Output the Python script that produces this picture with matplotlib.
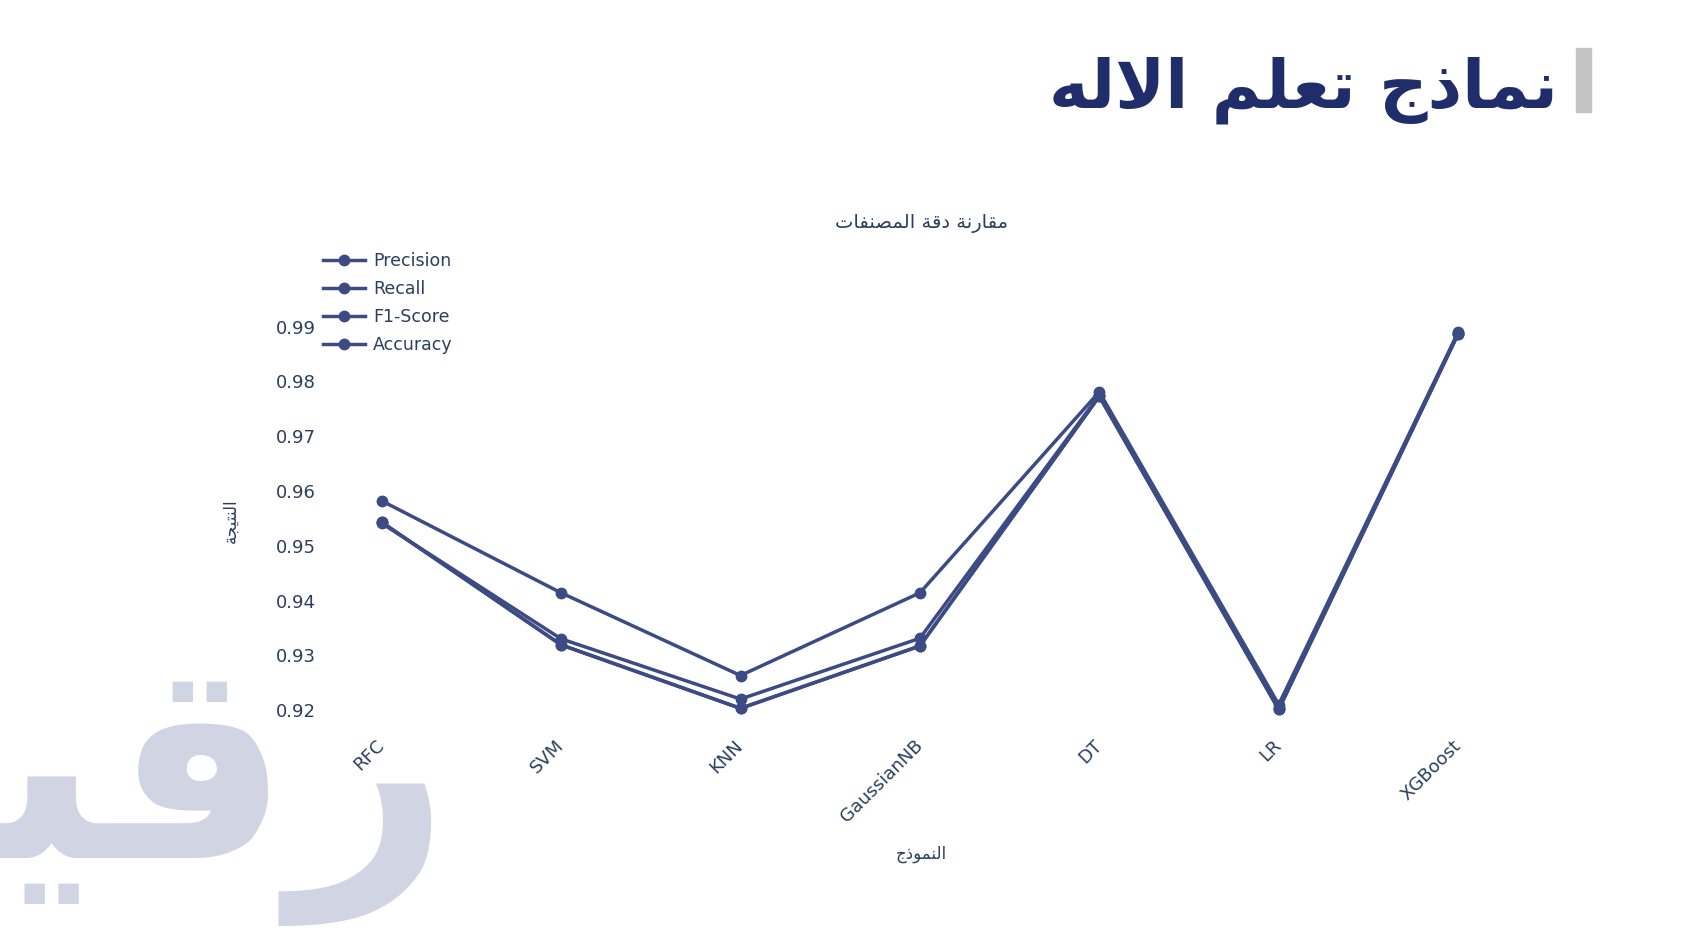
import matplotlib
matplotlib.use("Agg")
import matplotlib.pyplot as plt

# ---------------- data ----------------
models = ["RFC", "SVM", "KNN", "GaussianNB", "DT", "LR", "XGBoost"]
precision = [0.9582, 0.9414, 0.9263, 0.9414, 0.9781, 0.9210, 0.9890]
recall    = [0.9543, 0.9319, 0.9203, 0.9317, 0.9773, 0.9201, 0.9887]
f1_score  = [0.9541, 0.9330, 0.9220, 0.9331, 0.9775, 0.9204, 0.9888]
accuracy  = [0.9543, 0.9319, 0.9203, 0.9317, 0.9773, 0.9201, 0.9887]
series_names = ["Precision", "Recall", "F1-Score", "Accuracy"]
y_ticks = [0.92, 0.93, 0.94, 0.95, 0.96, 0.97, 0.98, 0.99]

title_txt = "نماذج تعلم الاله"
subtitle_txt = "مقارنة دقة المصنفات"
ylabel_txt = "النتيجة"
xlabel_txt = "النموذج"
logo_txt = "رقيب"

# ------------- simple Arabic shaping (matplotlib has no shaper) -------------
_FORMS = {
    'ا': ('\uFE8D', '\uFE8E', None, None),
    'ب': ('\uFE8F', '\uFE90', '\uFE91', '\uFE92'),
    'ة': ('\uFE93', '\uFE94', None, None),
    'ت': ('\uFE95', '\uFE96', '\uFE97', '\uFE98'),
    'ج': ('\uFE9D', '\uFE9E', '\uFE9F', '\uFEA0'),
    'د': ('\uFEA9', '\uFEAA', None, None),
    'ذ': ('\uFEAB', '\uFEAC', None, None),
    'ر': ('\uFEAD', '\uFEAE', None, None),
    'و': ('\uFEED', '\uFEEE', None, None),
    'ص': ('\uFEB9', '\uFEBA', '\uFEBB', '\uFEBC'),
    'ع': ('\uFEC9', '\uFECA', '\uFECB', '\uFECC'),
    'ف': ('\uFED1', '\uFED2', '\uFED3', '\uFED4'),
    'ق': ('\uFED5', '\uFED6', '\uFED7', '\uFED8'),
    'ل': ('\uFEDD', '\uFEDE', '\uFEDF', '\uFEE0'),
    'م': ('\uFEE1', '\uFEE2', '\uFEE3', '\uFEE4'),
    'ن': ('\uFEE5', '\uFEE6', '\uFEE7', '\uFEE8'),
    'ه': ('\uFEE9', '\uFEEA', '\uFEEB', '\uFEEC'),
    'ي': ('\uFEF1', '\uFEF2', '\uFEF3', '\uFEF4'),
}


def shape_ar(s):
    def dual(c):
        return c in _FORMS and _FORMS[c][2] is not None
    out = []
    i, n = 0, len(s)
    while i < n:
        c = s[i]
        if c not in _FORMS:
            out.append(c)
            i += 1
            continue
        prev_join = i > 0 and dual(s[i - 1])
        if c == 'ل' and i + 1 < n and s[i + 1] == 'ا':
            out.append('\uFEFC' if prev_join else '\uFEFB')
            i += 2
            continue
        next_join = dual(c) and i + 1 < n and s[i + 1] in _FORMS
        iso, fin, ini, med = _FORMS[c]
        if prev_join and next_join:
            g = med
        elif prev_join:
            g = fin
        elif next_join:
            g = ini
        else:
            g = iso
        out.append(g)
        i += 1
    return ''.join(reversed(out))


# ---------------- figure ----------------
W, H = 1685, 948
fig = plt.figure(figsize=(W / 100, H / 100), dpi=100)
fig.patch.set_facecolor("white")

LINE_C = "#3d4b85"
FONT_C = "#2a3f5f"
AR_FONT = ["DejaVu Sans"]

# watermark logo (behind everything)
fig.text(450 / W, 1 - 858 / H, shape_ar(logo_txt), fontsize=200, fontweight="bold",
         color="#d0d4e3", ha="right", va="baseline", family=AR_FONT, zorder=-10)

# big title + grey bar
fig.text(1558 / W, 1 - 108 / H, shape_ar(title_txt), fontsize=48.5, fontweight="bold",
         color="#1f2d6b", ha="right", va="baseline", family=AR_FONT)
fig.patches.append(plt.Rectangle((1576 / W, 1 - 112 / H), 15 / W, 64 / H,
                                 transform=fig.transFigure, color="#c3c3c3"))

# axes placement: 0.99 at y=326.7 px, 54.76 px per 0.01; RFC x=381.7, 179.4 px per category
ylo, yhi = 0.915, 0.994
px_per = 5476.0
top_px = 326.7 - (yhi - 0.99) * px_per
bot_px = 326.7 + (0.99 - ylo) * px_per
xlo, xhi = -0.35, 6.35
left_px = 381.7 + xlo * 179.4
right_px = 381.7 + xhi * 179.4
ax = fig.add_axes([left_px / W, 1 - bot_px / H, (right_px - left_px) / W, (bot_px - top_px) / H])
ax.set_facecolor("none")

xs = list(range(len(models)))
for name, vals in zip(series_names, [precision, recall, f1_score, accuracy]):
    ax.plot(xs, vals, color=LINE_C, lw=2.5, marker="o", ms=7.5, label=name,
            solid_joinstyle="round")

ax.set_xlim(xlo, xhi)
ax.set_ylim(ylo, yhi)
ax.set_yticks(y_ticks)
ax.set_yticklabels([f"{v:.2f}" for v in y_ticks])
ax.set_xticks(xs)
ax.set_xticklabels(models, rotation=45, ha="right", va="center", rotation_mode="anchor")
for sp in ax.spines.values():
    sp.set_visible(False)
ax.tick_params(axis="both", length=0, labelsize=13, labelcolor=FONT_C)
ax.tick_params(axis="y", pad=2)
ax.tick_params(axis="x", pad=4)

# axis titles
fig.text(231 / W, 1 - 521 / H, shape_ar(ylabel_txt), rotation=90, fontsize=12,
         color=FONT_C, ha="center", va="center", family=AR_FONT)
fig.text(921 / W, 1 - 854 / H, shape_ar(xlabel_txt), fontsize=12,
         color=FONT_C, ha="center", va="center", family=AR_FONT)
fig.text(921 / W, 1 - 223 / H, shape_ar(subtitle_txt), fontsize=14,
         color=FONT_C, ha="center", va="center", family=AR_FONT)

# legend
leg = fig.legend(loc="upper left", bbox_to_anchor=(323 / W, 1 - 252 / H),
                 frameon=False, fontsize=12.5, handlelength=2.4, handletextpad=0.5,
                 labelspacing=0.57, borderpad=0, borderaxespad=0)
for t in leg.get_texts():
    t.set_color(FONT_C)

fig.savefig("out.png", dpi=100, facecolor="white")
